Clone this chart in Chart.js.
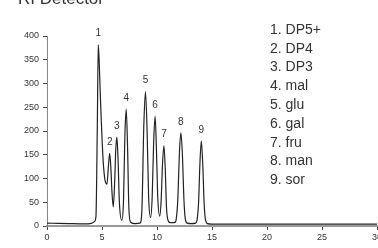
<!doctype html>
<html lang="en">
<head>
    <meta charset="utf-8">
    <title>RI Detector</title>
    <style>
        * { margin: 0; padding: 0; }
        body { background: #fff; }
        .chartBox { width: 378px; height: 248px; }
    </style>
</head>
<body>
    <div class="chartBox">
        <canvas id="myChart" width="378" height="248"></canvas>
    </div>
    <script src="https://cdn.jsdelivr.net/npm/chart.js/dist/chart.umd.min.js"></script>
    <script>
        // retention time (min) and detector response
        const times = [
            0, 1, 2, 3, 3.7, 4.1, 4.3, 4.45, 4.57, 4.66, 4.75, 4.85, 4.97, 5.12, 5.27, 5.45,
            5.58, 5.7, 5.8, 5.9, 6.02, 6.14, 6.25, 6.35, 6.46, 6.58, 6.8,
            6.95, 7.08, 7.2, 7.32, 7.44, 7.6, 8.0, 8.45,
            8.62, 8.8, 8.95, 9.1, 9.24, 9.42, 9.56, 9.7, 9.83, 9.95, 10.07, 10.25,
            10.38, 10.5, 10.63, 10.75, 10.86, 11.0, 11.2, 11.6,
            11.75, 11.9, 12.03, 12.17, 12.31, 12.44, 12.57, 12.75, 13.1, 13.5,
            13.65, 13.78, 13.9, 14.03, 14.16, 14.28, 14.4, 14.6, 15, 16, 20, 25, 30
        ];
        const response = [
            6, 5.5, 5, 4.5, 4.5, 6, 9, 20, 202, 382, 343, 272, 202, 132, 97, 88,
            125, 153, 125, 75, 40, 85, 160, 187, 140, 50, 12,
            50, 190, 246, 170, 40, 8, 5, 6,
            30, 210, 283, 200, 60, 18, 60, 180, 231, 160, 60, 21,
            55, 130, 169, 120, 40, 12, 7, 7,
            15, 60, 150, 196, 150, 60, 15, 6, 5, 6,
            14, 50, 130, 179, 130, 50, 14, 5, 4, 4, 4, 4, 4
        ];

        // peak numbers and their apex positions
        const peakNums = ['1', '2', '3', '4', '5', '6', '7', '8', '9'];
        const peakTimes = [4.66, 5.7, 6.35, 7.2, 8.95, 9.83, 10.63, 12.17, 14.03];
        const peakHeights = [382, 153, 187, 246, 283, 231, 169, 196, 179];
        const peakNames = ['DP5+', 'DP4', 'DP3', 'mal', 'glu', 'gal', 'fru', 'man', 'sor'];

        const xTicks = [0, 5, 10, 15, 20, 25, 30];
        const yTicks = [0, 50, 100, 150, 200, 250, 300, 350, 400];

        const FONT = "'Liberation Sans', Arial, sans-serif";

        const data = {
            datasets: [{
                data: times.map((t, i) => ({ x: t, y: response[i] })),
                borderColor: '#222',
                borderWidth: 1.2,
                pointRadius: 0,
                cubicInterpolationMode: 'monotone',
                fill: false
            }]
        };

        const annotations = {
            id: 'annotations',
            afterDraw(chart) {
                const { ctx, scales: { x, y } } = chart;
                ctx.save();
                // peak numbers
                ctx.font = `10px ${FONT}`;
                ctx.fillStyle = '#333';
                ctx.textAlign = 'center';
                ctx.textBaseline = 'middle';
                peakNums.forEach((n, i) => {
                    ctx.fillText(n, x.getPixelForValue(peakTimes[i]), y.getPixelForValue(peakHeights[i]) - 11);
                });
                // numbered list on the right
                ctx.font = `14px ${FONT}`;
                ctx.textAlign = 'left';
                peakNames.forEach((name, i) => {
                    ctx.fillText(`${peakNums[i]}. ${name}`, 270, 30 + i * 18.8);
                });
                // title, clipped at the top edge
                ctx.font = `17px ${FONT}`;
                ctx.textBaseline = 'alphabetic';
                ctx.fillText('RI Detector', 18, 4);
                ctx.restore();
            }
        };

        const config = {
            type: 'line',
            data,
            options: {
                responsive: false,
                animation: false,
                layout: { padding: { top: 36, right: 1, left: 0, bottom: 0 } },
                plugins: {
                    legend: { display: false },
                    tooltip: { enabled: false }
                },
                scales: {
                    x: {
                        type: 'linear',
                        min: 0,
                        max: 30,
                        afterBuildTicks(scale) { scale.ticks = xTicks.map(v => ({ value: v })); },
                        afterFit(scale) { scale.height = 22; scale.paddingLeft = 0; scale.paddingRight = 0; },
                        grid: { drawOnChartArea: false, tickLength: 4, tickColor: '#444', tickWidth: 1 },
                        border: { color: '#999', width: 2 },
                        ticks: { font: { size: 9, family: FONT }, color: '#333', padding: 2, maxRotation: 0 }
                    },
                    y: {
                        min: 0,
                        max: 400,
                        afterBuildTicks(scale) { scale.ticks = yTicks.map(v => ({ value: v })); },
                        afterFit(scale) { scale.width = 47; },
                        grid: { drawOnChartArea: false, tickLength: 4, tickColor: '#444', tickWidth: 1 },
                        border: { color: '#888', width: 1 },
                        ticks: { font: { size: 9, family: FONT }, color: '#333', padding: 4 }
                    }
                }
            },
            plugins: [annotations]
        };

        const myChart = new Chart(document.getElementById('myChart'), config);
    </script>
</body>
</html>
